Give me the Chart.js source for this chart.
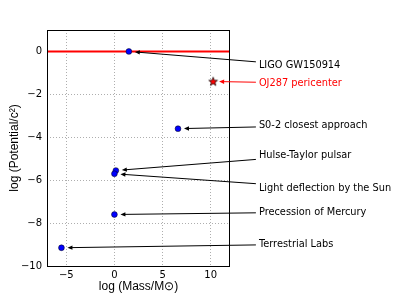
<!DOCTYPE html>
<html>
<head>
<meta charset="utf-8">
<script src="https://cdn.jsdelivr.net/npm/chart.js@4.4.1/dist/chart.umd.min.js"></script>
<style>
  html, body { margin: 0; padding: 0; background: #fff; }
  #wrap { width: 399px; height: 299px; }
</style>
</head>
<body>
<div id="wrap"><canvas id="gr"></canvas></div>
<script>
// experiments: log10(M/Msun) vs log10(potential/c^2)
var names = ["LIGO GW150914", "OJ287 pericenter", "S0-2 closest approach", "Hulse-Taylor pulsar",
             "Light deflection by the Sun", "Precession of Mercury", "Terrestrial Labs"];
var logMass = [1.5, 10.25, 6.6, 0.15, 0.0, 0.0, -5.5];
var logPotential = [0.0, -1.4, -3.6, -5.55, -5.7, -7.6, -9.15];
var xTicks = [-5, 0, 5, 10];
var yTicks = [-10, -8, -6, -4, -2, 0];

// where the labels sit (data coords, right of the axes)
var labelX = 15;
var labelY = [-0.65, -1.47, -3.46, -4.85, -6.39, -7.49, -8.99];
var labelColor = ["#000", "#ff0000", "#000", "#000", "#000", "#000", "#000"];

var minus = function (v) { return v < 0 ? '\u2212' + Math.abs(v) : '' + v; };

// filled star marker for OJ287
function starMarker() {
  var c = document.createElement('canvas');
  c.width = 12; c.height = 12;
  var g = c.getContext('2d');
  g.beginPath();
  for (var i = 0; i < 10; i++) {
    var r = i % 2 ? 1.9 : 4.6;
    var a = -Math.PI / 2 + i * Math.PI / 5;
    g.lineTo(6 + r * Math.cos(a), 6.3 + r * Math.sin(a));
  }
  g.closePath();
  g.fillStyle = '#ff0000';
  g.fill();
  g.lineWidth = 0.7;
  g.strokeStyle = '#000';
  g.stroke();
  return c;
}

var pts = [], star = [];
for (var i = 0; i < names.length; i++) {
  if (i === 1) star.push({x: logMass[i], y: logPotential[i]});
  else pts.push({x: logMass[i], y: logPotential[i]});
}

var annotate = {
  id: 'annotate',
  afterDatasetsDraw: function (chart) {
    var g = chart.ctx, xs = chart.scales.x, ys = chart.scales.y, a = chart.chartArea;
    g.save();
    // frame
    g.strokeStyle = '#000';
    g.lineWidth = 1;
    g.strokeRect(Math.round(a.left) + 0.5, Math.round(a.top) + 0.5,
                 Math.round(a.right - a.left) - 1, Math.round(a.bottom - a.top));
    g.font = '9.8px "DejaVu Sans"';
    g.textBaseline = 'middle';
    g.textAlign = 'left';
    for (var i = 0; i < names.length; i++) {
      var tx = xs.getPixelForValue(labelX), ty = ys.getPixelForValue(labelY[i]);
      var px = xs.getPixelForValue(logMass[i]), py = ys.getPixelForValue(logPotential[i]);
      g.fillStyle = labelColor[i];
      g.fillText(names[i], tx, ty);
      var w = g.measureText(names[i]).width;
      // start where line from text centre leaves the box
      var cx = tx + w / 2, left = tx - 3;
      var sy = ty + (py - ty) * (left - cx) / (px - cx);
      var dx = px - left, dy = py - sy, len = Math.sqrt(dx * dx + dy * dy);
      var ux = dx / len, uy = dy / len;
      var ex = px - ux * 6, ey = py - uy * 6;
      g.strokeStyle = labelColor[i];
      g.fillStyle = labelColor[i];
      g.lineWidth = 1;
      g.beginPath();
      g.moveTo(left, sy);
      g.lineTo(ex - ux * 4, ey - uy * 4);
      g.stroke();
      g.beginPath();
      g.moveTo(ex, ey);
      g.lineTo(ex - ux * 5 - uy * 2.2, ey - uy * 5 + ux * 2.2);
      g.lineTo(ex - ux * 5 + uy * 2.2, ey - uy * 5 - ux * 2.2);
      g.closePath();
      g.fill();
    }
    g.restore();
  }
};

new Chart(document.getElementById('gr'), {
  type: 'scatter',
  data: {
    datasets: [{
      type: 'line',
      data: [{x: -7, y: 0}, {x: 12, y: 0}],
      borderColor: '#ff0000',
      borderWidth: 2,
      pointRadius: 0,
      order: 3
    }, {
      data: pts,
      pointRadius: 2.9,
      backgroundColor: '#0000ff',
      borderColor: '#000',
      borderWidth: 0.5,
      order: 1
    }, {
      data: star,
      pointStyle: starMarker(),
      order: 2
    }]
  },
  options: {
    responsive: true,
    maintainAspectRatio: false,
    animation: false,
    layout: { padding: { left: 0, top: 30, right: 169, bottom: 0 } },
    plugins: { legend: { display: false }, tooltip: { enabled: false } },
    scales: {
      x: {
        type: 'linear', min: -7, max: 12,
        afterBuildTicks: function (s) { s.ticks = xTicks.map(function (v) { return {value: v}; }); },
        afterFit: function (s) { s.height = 33; },
        ticks: { color: '#000', font: { family: 'DejaVu Sans', size: 10 }, padding: 3,
                 maxRotation: 0, callback: minus },
        grid: { color: 'rgba(0,0,0,0.4)', lineWidth: 0.8, drawTicks: false },
        border: { display: false, dash: [1, 2] },
        title: { display: true, text: 'log (Mass/M\u2299)', color: '#000',
                 font: { family: 'Liberation Sans', size: 12 }, padding: { top: 0, bottom: 5 } }
      },
      y: {
        type: 'linear', min: -10, max: 1,
        afterBuildTicks: function (s) { s.ticks = yTicks.map(function (v) { return {value: v}; }); },
        afterFit: function (s) { s.width = 47; },
        ticks: { color: '#000', font: { family: 'DejaVu Sans', size: 10 }, padding: 5, callback: minus },
        grid: { color: 'rgba(0,0,0,0.4)', lineWidth: 0.8, drawTicks: false },
        border: { display: false, dash: [1, 2] },
        title: { display: true, text: 'log (Potential/c\u00b2)', color: '#000',
                 font: { family: 'Liberation Sans', size: 12 }, padding: { top: 7, bottom: 0 } }
      }
    }
  },
  plugins: [annotate]
});
</script>
</body>
</html>
